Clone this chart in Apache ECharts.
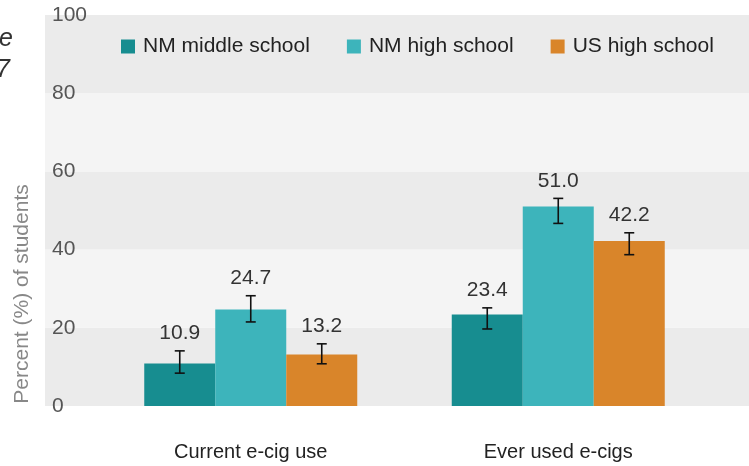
<!DOCTYPE html>
<html><head><meta charset="utf-8">
<script src="https://cdn.jsdelivr.net/npm/echarts@6/dist/echarts.min.js"></script>
<style>html,body{margin:0;padding:0;background:#fff}#c{width:749px;height:466px}</style>
</head><body><div id="c"></div>
<script>
const categories = ['Current e-cig use', 'Ever used e-cigs'];
const seriesNames = ['NM middle school', 'NM high school', 'US high school'];
const nmMiddle = [10.9, 23.4];
const nmHigh = [24.7, 51.0];
const usHigh = [13.2, 42.2];
const nmMiddleLow = [8.4, 19.7];
const nmMiddleHigh = [14.1, 25.1];
const nmHighLow = [21.5, 46.7];
const nmHighHigh = [28.2, 53.1];
const usHighLow = [10.8, 38.7];
const usHighHigh = [15.9, 44.3];
const yTicks = [0, 20, 40, 60, 80, 100];
const titleLine1 = 'Current and ever e-cigarette use';
const titleLine2 = 'among NM and US students, 2017';

const colors = ['#178d90', '#3db4bb', '#d9852a'];
const FONT = '"Liberation Sans", Arial, sans-serif';
const BAR_W = 71;

const values = [nmMiddle, nmHigh, usHigh];
const lows = [nmMiddleLow, nmHighLow, usHighLow];
const highs = [nmMiddleHigh, nmHighHigh, usHighHigh];

const chart = echarts.init(document.getElementById('c'), null, {renderer: 'canvas'});

const barSeries = seriesNames.map((n, k) => ({
  name: n, type: 'bar', xAxisIndex: 1, yAxisIndex: 1,
  barWidth: BAR_W, barGap: '0%',
  itemStyle: {color: colors[k]},
  data: values[k]
}));

const errSeries = seriesNames.map((n, k) => ({
  name: 'err' + k, type: 'custom', xAxisIndex: 1, yAxisIndex: 1, z: 5,
  data: categories.map((c, i) => [i, lows[k][i], highs[k][i], values[k][i]]),
  renderItem: function (params, api) {
    const xi = api.value(0);
    const lo = api.coord([xi, api.value(1)]);
    const hi = api.coord([xi, api.value(2)]);
    const x = lo[0] + (k - 1) * BAR_W;
    const cap = 5;
    const st = {stroke: '#111', lineWidth: 1.6};
    return {
      type: 'group',
      children: [
        {type: 'line', shape: {x1: x, y1: hi[1], x2: x, y2: lo[1]}, style: st},
        {type: 'line', shape: {x1: x - cap, y1: hi[1], x2: x + cap, y2: hi[1]}, style: st},
        {type: 'line', shape: {x1: x - cap, y1: lo[1], x2: x + cap, y2: lo[1]}, style: st},
        {type: 'text', x: x, y: hi[1] - 7, style: {
          text: api.value(3).toFixed(1), fill: '#333', font: '21px ' + FONT,
          textAlign: 'center', textVerticalAlign: 'bottom'}}
      ]
    };
  }
}));

chart.setOption({
  animation: false,
  textStyle: {fontFamily: FONT},
  grid: [
    {left: 45, right: 0, top: 15, bottom: 60},
    {left: 97, right: 37, top: 15, bottom: 60}
  ],
  legend: {
    data: seriesNames, left: 116, top: 31, icon: 'rect',
    itemWidth: 14, itemHeight: 14, itemGap: 37,
    textStyle: {fontSize: 21, color: '#222', padding: [0, 0, 0, 3]}
  },
  xAxis: [
    {type: 'value', gridIndex: 0, min: 0, max: 1, show: false},
    {type: 'category', gridIndex: 1, data: categories,
     axisLine: {show: false}, axisTick: {show: false},
     axisLabel: {fontSize: 20, color: '#222', margin: 36}}
  ],
  yAxis: [
    {type: 'value', gridIndex: 0, min: 0, max: 100, interval: 20,
     axisLine: {show: false}, axisTick: {show: false}, splitLine: {show: false},
     splitArea: {show: true, areaStyle: {color: ['#ebebeb', '#f4f4f4']}},
     axisLabel: {inside: true, margin: 7, fontSize: 21, color: '#555',
       formatter: v => yTicks.includes(v) ? String(v) : ''}},
    {type: 'value', gridIndex: 1, min: 0, max: 100, interval: 20, show: false}
  ],
  graphic: [
    {type: 'text', x: 22, y: 294, rotation: Math.PI / 2, style: {
      text: 'Percent (%) of students', fill: '#888', font: '21px ' + FONT,
      textAlign: 'center', textVerticalAlign: 'middle'}},
    {type: 'text', x: 13, y: 27, style: {text: titleLine1, fill: '#333',
      font: 'italic 25px ' + FONT, textAlign: 'right', textVerticalAlign: 'alphabetic'}},
    {type: 'text', x: 10, y: 58, style: {text: titleLine2, fill: '#333',
      font: 'italic 25px ' + FONT, textAlign: 'right', textVerticalAlign: 'alphabetic'}}
  ],
  series: [...barSeries, ...errSeries]
});
</script></body></html>
